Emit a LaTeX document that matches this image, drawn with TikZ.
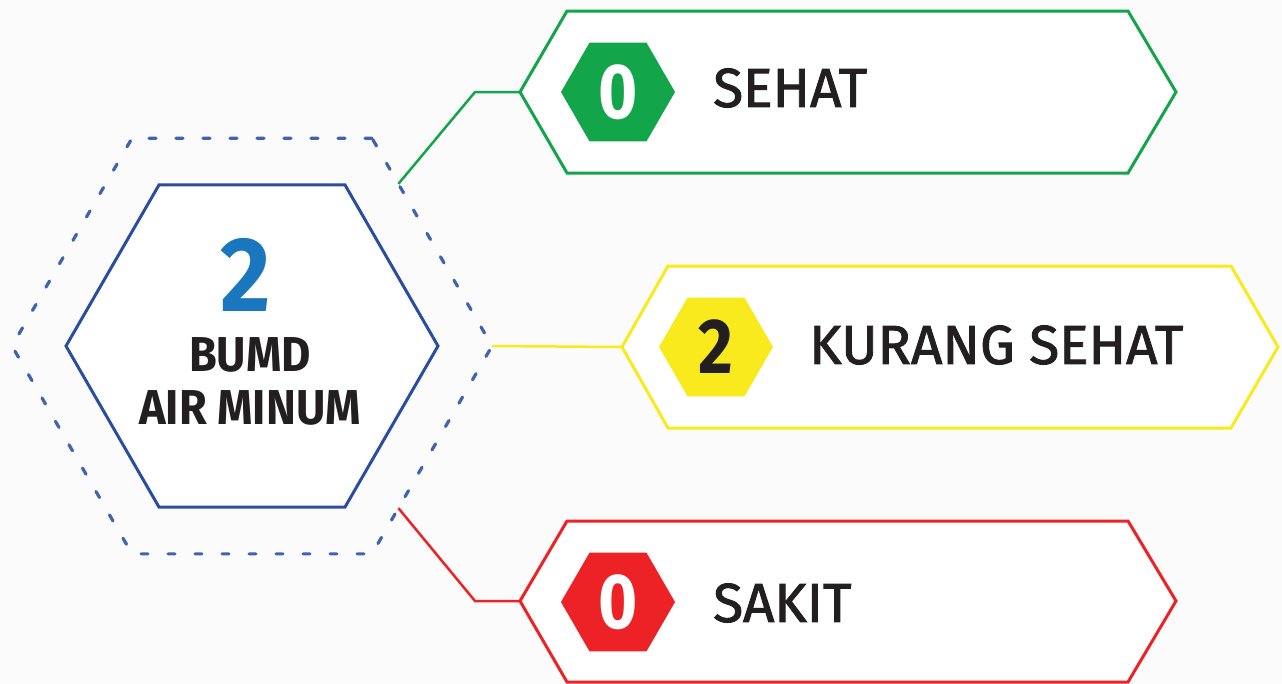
\documentclass[tikz,border=0pt]{standalone}
\usepackage{fontspec}
\setmainfont{Fira Sans}
\newfontfamily\hubfont[FakeStretch=0.92]{Fira Sans}
\newfontfamily\digitfont[FakeStretch=0.86]{Fira Sans}
\newfontfamily\tagfont[FakeBold=1.6]{Fira Sans}
\usetikzlibrary{shapes.geometric,positioning,calc}
\definecolor{paper}{HTML}{FBFBFB}
\definecolor{ink}{HTML}{231F20}
\definecolor{hubline}{HTML}{2B4DA0}
\definecolor{ringline}{HTML}{3F63B0}
\definecolor{hubnum}{HTML}{1A77BD}
\definecolor{okgreen}{HTML}{13A54A}
\definecolor{midyellow}{HTML}{F8EA1C}
\definecolor{badred}{HTML}{EC2227}

\begin{document}
\begin{tikzpicture}[x=1pt,y=-1pt,
    hexa/.style={regular polygon,regular polygon sides=6,inner sep=0pt,outer sep=0pt},
    badge/.style={hexa,minimum size=114pt,fill=#1,font=\digitfont\bfseries\fontsize{78}{80}\selectfont},
    banner/.style={draw=#1,line width=3pt,fill=white},
    link/.style={draw=#1,line width=2.5pt},
    tag/.style={font=\tagfont\fontsize{55}{60}\selectfont,text=ink,inner sep=0pt,anchor=west}]
  \fill[paper] (0,0) rectangle (1282,683);
  \useasboundingbox (0,0) rectangle (1282,683);

  % centre hexagon
  \node[hexa,minimum size=480pt,draw=ringline,line width=3.2pt,line cap=round,
        dash pattern=on 7pt off 20pt] (ring) at (252,346) {};
  \node[hexa,minimum size=372pt,draw=hubline,line width=3pt,fill=white] (hub) at (252,346) {};
  \node[font=\hubfont\bfseries\fontsize{106}{110}\selectfont,text=hubnum,inner sep=0pt] (hubcount) at (246,275) {2};
  \node[font=\hubfont\bfseries\fontsize{49}{53}\selectfont,text=ink,align=center,inner sep=0pt] (hubname) at (250,381) {BUMD\\AIR MINUM};

  % banners
  \draw[banner=okgreen] (520,92) coordinate (gtip) -- (567,11) -- (1128,11) -- (1176,92) -- (1128,173) -- (567,173) -- cycle;
  \draw[banner=midyellow] (622,347) coordinate (ytip) -- (668,266) -- (1231,266) -- (1278,347) -- (1231,428) -- (668,428) -- cycle;
  \draw[banner=badred] (520,601) coordinate (rtip) -- (567,521) -- (1128,521) -- (1176,601) -- (1128,682) -- (567,682) -- cycle;

  % links
  \draw[link=okgreen] ($(ring.corner 1)!.22!(ring.corner 6)$) -- ($(gtip)+(-45,0)$) -- (gtip);
  \draw[link=midyellow] (ring.corner 6) -- (ytip);
  \draw[link=badred] ($(ring.corner 5)!.22!(ring.corner 6)$) -- ($(rtip)+(-45,0)$) -- (rtip);

  % badges and labels
  \node[badge=okgreen,text=white] (gbadge) at (618,92) {0};
  \node[tag,right=38pt of gbadge,yshift=4pt] (glabel) {SEHAT};
  \node[badge=midyellow,text=ink] (ybadge) at (716,347) {2};
  \node[tag,right=36pt of ybadge,yshift=2pt] (ylabel) {KURANG SEHAT};
  \node[badge=badred,text=white] (rbadge) at (618,602) {0};
  \node[tag,right=38pt of rbadge,yshift=-1pt] (rlabel) {SAKIT};
\end{tikzpicture}
\end{document}
